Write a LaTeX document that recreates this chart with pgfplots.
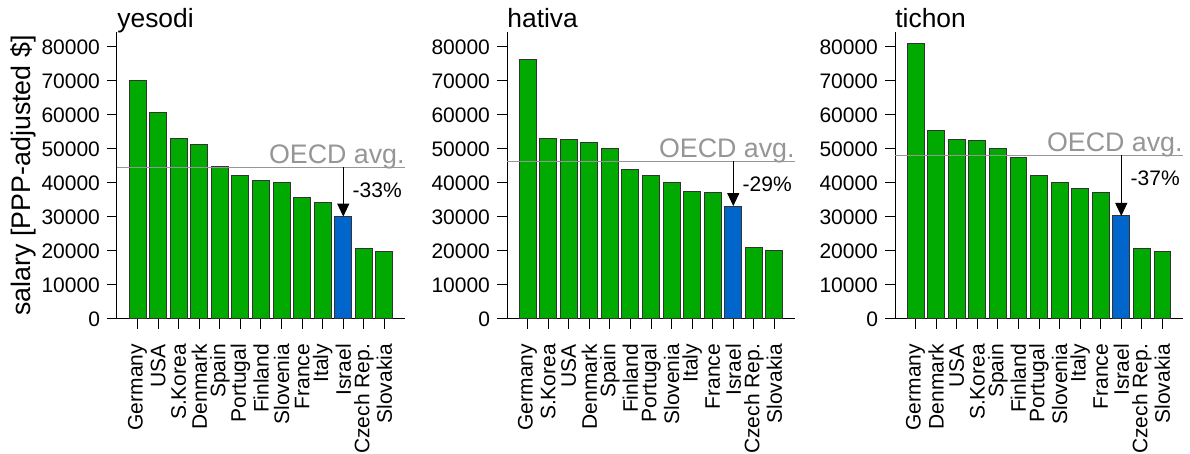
\documentclass[border=0pt]{standalone}
\usepackage{fontspec}
\setmainfont{Liberation Sans}
\usepackage{pgfplots}
\pgfplotsset{compat=1.18}
\usetikzlibrary{arrows.meta}

\definecolor{bargreen}{RGB}{0,170,0}
\definecolor{barblue}{RGB}{0,102,204}
\definecolor{avggray}{RGB}{150,150,150}

\pgfplotsset{
  salary/.style={
    scale only axis, width=144pt, height=143.5pt, anchor=south west,
    xmin=-1, xmax=13, ymin=0, ymax=84400,
    axis lines*=left, axis line style={-, line width=0.5pt},
    tick align=outside, major tick length=5pt,
    tick style={black, line width=0.5pt},
    xtick={0,...,12}, ytick={0,10000,...,80000},
    scaled y ticks=false,
    /pgf/number format/assume math mode=true,
    /pgf/number format/set thousands separator={},
    tick label style={font=\fontsize{10.5}{12}\selectfont},
    xticklabel style={rotate=90, anchor=east, xshift=-4pt},
    clip=false,
  },
  green bars/.style={ybar, bar width=0.82, bar shift=0pt, fill=bargreen,
    draw=black!80, line width=0.5pt},
  blue bar/.style={ybar, bar width=0.82, bar shift=0pt, fill=barblue,
    draw=black!80, line width=0.5pt},
  avg line/.style={avggray, line width=0.6pt, no markers},
}

% #1 title, #2 OECD avg, #3 Israel, #4 label height, #5 label
\newcommand{\oecd}[5]{%
  \node[anchor=base west, inner sep=0pt, yshift=2pt,
        font=\fontsize{13.2}{15}\selectfont] at (rel axis cs:0,1) {#1};
  \addplot[avg line] coordinates {(-1,#2) (13,#2)};
  \node[anchor=base east, inner sep=0pt, text=avggray,
        font=\fontsize{13.4}{15}\selectfont, yshift=2pt]
        at (axis cs:13,#2) {OECD avg.};
  \draw[-{Triangle[width=6pt,length=6.5pt]}, line width=0.5pt]
        (axis cs:10,#2) -- (axis cs:10,#3);
  \node[anchor=west, inner sep=0pt, xshift=4.5pt,
        font=\fontsize{10.5}{12}\selectfont] at (axis cs:10,#4) {#5};
}

\begin{document}
\begin{tikzpicture}
\useasboundingbox (0,0) rectangle (595pt,227pt);

% yesodi
\begin{axis}[salary, at={(58.5pt,67.5pt)},
    ylabel={salary [PPP-adjusted \$]},
    ylabel style={at={(rel axis cs:0,0.5)}, anchor=center, yshift=47pt,
      font=\fontsize{13.4}{15}\selectfont},
    xticklabels={Germany,USA,S.Korea,Denmark,Spain,Portugal,Finland,Slovenia,France,Italy,Israel,Czech Rep.,Slovakia}]
  \addplot[green bars] coordinates {
    (0,70200) (1,60600) (2,53100) (3,51200) (4,44900) (5,42200)
    (6,40800) (7,40100) (8,35700) (9,34300) (11,20800) (12,19900)};
  \addplot[blue bar] coordinates {(10,30100)};
  \oecd{yesodi}{44600}{30100}{37900}{-33\%}
\end{axis}

% hativa
\begin{axis}[salary, at={(253.5pt,67.5pt)},
    xticklabels={Germany,S.Korea,USA,Denmark,Spain,Finland,Portugal,Slovenia,Italy,France,Israel,Czech Rep.,Slovakia}]
  \addplot[green bars] coordinates {
    (0,76400) (1,53200) (2,52700) (3,51800) (4,50000) (5,43900)
    (6,42200) (7,40100) (8,37400) (9,37300) (11,20900) (12,20000)};
  \addplot[blue bar] coordinates {(10,33200)};
  \oecd{hativa}{46400}{33200}{39700}{-29\%}
\end{axis}

% tichon
\begin{axis}[salary, at={(447.5pt,67.5pt)},
    xticklabels={Germany,Denmark,USA,S.Korea,Spain,Finland,Portugal,Slovenia,Italy,France,Israel,Czech Rep.,Slovakia}]
  \addplot[green bars] coordinates {
    (0,80900) (1,55400) (2,52700) (3,52500) (4,50000) (5,47500)
    (6,42200) (7,40100) (8,38300) (9,37200) (11,20800) (12,19900)};
  \addplot[blue bar] coordinates {(10,30300)};
  \oecd{tichon}{48100}{30300}{41500}{-37\%}
\end{axis}
\end{tikzpicture}
\end{document}
